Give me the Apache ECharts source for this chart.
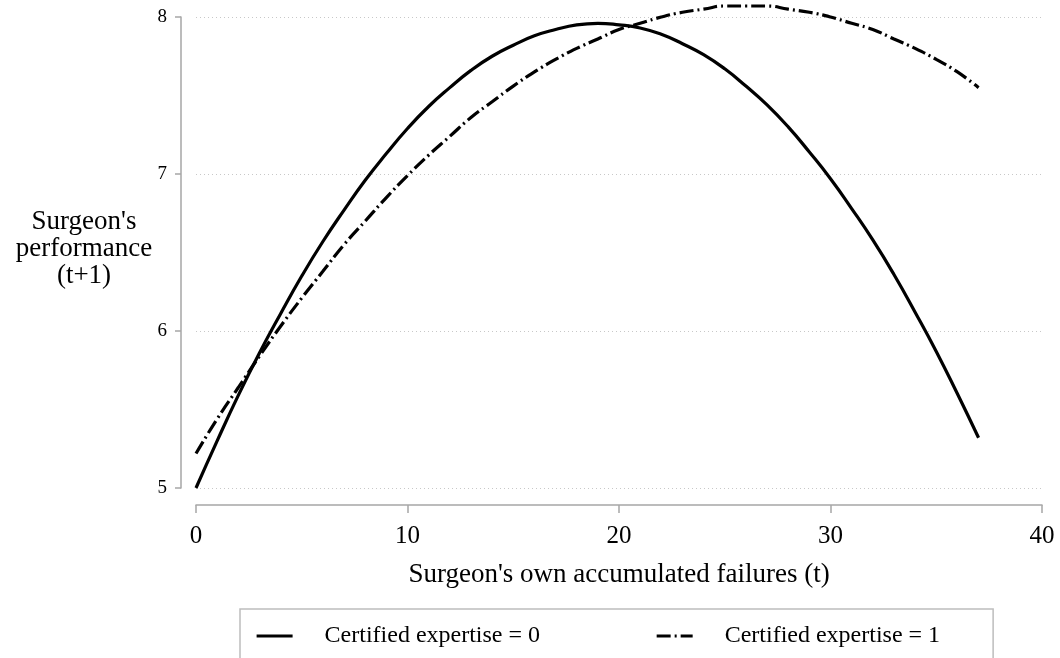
<!DOCTYPE html>
<html>
<head>
<meta charset="utf-8">
<script src="https://cdn.jsdelivr.net/npm/echarts@6/dist/echarts.min.js"></script>
<style>
  html, body { margin: 0; padding: 0; background: #fff; }
  #chart { width: 1060px; height: 658px; }
</style>
</head>
<body>
<div id="chart"></div>
<script>
// Accumulated failures (t), 0..37
const failures = [0,1,2,3,4,5,6,7,8,9,10,11,12,13,14,15,16,17,18,19,20,21,22,23,24,25,26,27,28,29,30,31,32,33,34,35,36,37];

// Predicted performance (t+1), no certified expertise
const perfCert0 = [5.00,5.30,5.59,5.86,6.11,6.35,6.57,6.77,6.96,7.13,7.29,7.43,7.55,7.66,7.75,7.82,7.88,7.92,7.95,7.96,7.95,7.93,7.89,7.83,7.76,7.67,7.56,7.44,7.30,7.14,6.97,6.78,6.58,6.36,6.12,5.87,5.60,5.32];

// Predicted performance (t+1), certified expertise
const perfCert1 = [5.22,5.44,5.64,5.84,6.03,6.21,6.38,6.55,6.70,6.85,6.99,7.12,7.24,7.36,7.46,7.56,7.65,7.73,7.80,7.86,7.92,7.96,8.00,8.03,8.05,8.07,8.07,8.07,8.05,8.03,8.00,7.96,7.92,7.86,7.80,7.73,7.65,7.55];

const seriesNames = ['Certified expertise = 0', 'Certified expertise = 1'];
const xTicks = [0, 10, 20, 30, 40];
const yTicks = [5, 6, 7, 8];

const serif = 'Liberation Serif, Times New Roman, serif';
const pairs = (ys) => failures.map((x, i) => [x, ys[i]]);

const chart = echarts.init(document.getElementById('chart'), null, { renderer: 'canvas' });
chart.setOption({
  animation: false,
  backgroundColor: '#ffffff',
  grid: { left: 196, right: 18, top: 17, bottom: 170, containLabel: false },
  xAxis: {
    type: 'value',
    min: xTicks[0], max: xTicks[xTicks.length - 1], interval: 10,
    offset: 17,
    name: "Surgeon's own accumulated failures (t)",
    nameLocation: 'middle',
    nameGap: 56,
    nameTextStyle: { fontFamily: serif, fontSize: 27, color: '#000' },
    axisLine: { show: true, onZero: false, lineStyle: { color: '#a6a6a6', width: 1.5 } },
    axisTick: { show: true, length: 8, lineStyle: { color: '#a6a6a6', width: 1.5 } },
    axisLabel: { fontFamily: serif, fontSize: 25, color: '#000', margin: 19 },
    splitLine: { show: false }
  },
  yAxis: {
    type: 'value',
    min: yTicks[0], max: yTicks[yTicks.length - 1], interval: 1,
    offset: 15,
    axisLine: { show: true, onZero: false, lineStyle: { color: '#a6a6a6', width: 1.5 } },
    axisTick: { show: true, length: 6, lineStyle: { color: '#a6a6a6', width: 1.5 } },
    axisLabel: { fontFamily: serif, fontSize: 19, color: '#000', margin: 14 },
    splitLine: { show: true, lineStyle: { color: '#c8c8c8', width: 1, type: [1, 3] } }
  },
  legend: {
    left: 240, top: 609,
    orient: 'horizontal',
    padding: [15, 53, 15, 15],
    itemWidth: 36, itemHeight: 14,
    itemGap: 115,
    borderColor: '#bdbdbd', borderWidth: 1.5,
    itemStyle: { color: 'rgba(0,0,0,0)', borderWidth: 0 },
    lineStyle: { width: 3.2 },
    textStyle: { fontFamily: serif, fontSize: 24, color: '#000', padding: [0, 0, 0, 27] },
    data: seriesNames
  },
  graphic: [{
    type: 'text',
    x: 84, y: 208,
    style: {
      text: "Surgeon's\nperformance\n(t+1)",
      fontFamily: serif, fontSize: 27, lineHeight: 27,
      fill: '#000', align: 'center', verticalAlign: 'top'
    }
  }],
  series: [
    {
      name: seriesNames[0], type: 'line', data: pairs(perfCert0),
      showSymbol: false, symbol: 'none', smooth: true, clip: false,
      lineStyle: { color: '#000', width: 3.2, type: 'solid' },
      itemStyle: { color: '#000' }
    },
    {
      name: seriesNames[1], type: 'line', data: pairs(perfCert1),
      showSymbol: false, symbol: 'none', smooth: true, clip: false,
      lineStyle: { color: '#000', width: 3.2, type: [14, 4, 2, 4] },
      itemStyle: { color: '#000' }
    }
  ]
});
</script>
</body>
</html>
